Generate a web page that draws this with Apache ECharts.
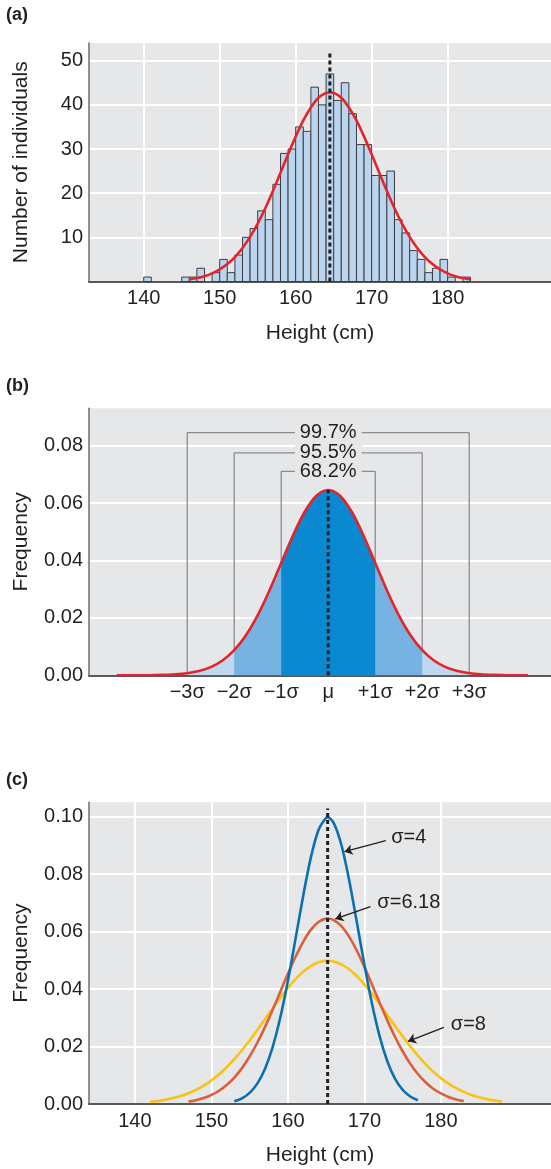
<!DOCTYPE html>
<html><head><meta charset="utf-8">
<script src="https://cdn.jsdelivr.net/npm/echarts@6/dist/echarts.min.js"></script>
<style>html,body{margin:0;padding:0;background:#fff}#c{width:551px;height:1169px}</style>
</head><body><div id="c"></div>
<script>
// ---------- data ----------
const heightTicks = [140, 150, 160, 170, 180];
const countTicks = [0, 10, 20, 30, 40, 50];
const freqTicksB = [0, 0.02, 0.04, 0.06, 0.08];
const freqTicksC = [0, 0.02, 0.04, 0.06, 0.08, 0.10];

// (a) histogram: 1-cm bins, bin start and count
const histBinStart = [140,141,142,143,144,145,146,147,148,149,150,151,152,153,154,155,156,157,158,159,160,161,162,163,164,165,166,167,168,169,170,171,172,173,174,175,176,177,178,179,180,181,182];
const histCounts   = [1,0,0,0,0,1,1,3,0,2,5,2,6,10,12,16,14,22,29,30,35,34,44,40,47,41,45,38,31,31,24,24,25,14,11,7,5,2,3,5,1,0,1];
// (a) fitted curve (counts)
const histFitX = [146,147,148,149,150,151,152,153,154,155,156,157,158,159,160,161,162,163,164,164.5,165,166,167,168,169,170,171,172,173,174,175,176,177,178,179,180,181,182,183];
const histFitY = [0.48,0.78,1.21,1.84,2.73,3.94,5.53,7.58,10.1,13.1,16.6,20.5,24.6,28.8,32.8,36.5,39.4,41.6,42.7,42.8,42.7,41.6,39.4,36.5,32.8,28.8,24.6,20.5,16.6,13.1,10.1,7.58,5.53,3.94,2.73,1.84,1.21,0.78,0.48];
const histMean = 164.5;
const histMeanTop = 52;

// (b) standard normal shape in sigma units
const sigmaPos  = [-4.5,-4.25,-4,-3.75,-3.5,-3.25,-3,-2.75,-2.5,-2.25,-2,-1.75,-1.5,-1.25,-1,-0.75,-0.5,-0.25,0,0.25,0.5,0.75,1,1.25,1.5,1.75,2,2.25,2.5,2.75,3,3.25,3.5,3.75,4,4.25];
const sigmaFreq = [0.0000026,0.0000077,0.0000217,0.000057,0.000141,0.000328,0.000717,0.00147,0.00284,0.00514,0.00874,0.01396,0.02096,0.02955,0.03915,0.04872,0.05697,0.06256,0.06455,0.06256,0.05697,0.04872,0.03915,0.02955,0.02096,0.01396,0.00874,0.00514,0.00284,0.00147,0.000717,0.000328,0.000141,0.000057,0.0000217,0.0000077];
const sigmaTickValues = [-3, -2, -1, 0, 1, 2, 3];
const sigmaTickLabels = ['\u22123\u03c3', '\u22122\u03c3', '\u22121\u03c3', '\u03bc', '+1\u03c3', '+2\u03c3', '+3\u03c3'];
const bracketSigma  = [3, 2, 1];
const bracketTop    = [0.0845, 0.0775, 0.0710];
const bracketLabels = ['99.7%', '95.5%', '68.2%'];

// (c) three curves
const curveMean = 165.2;
const sd4X = [153,154,155,156,157,158,159,160,161,162,163,164,165,165.2,166,167,168,169,170,171,172,173,174,175,176,177];
const sd4Y = [0.00095,0.00198,0.00386,0.00708,0.0122,0.01974,0.03001,0.04285,0.05747,0.07242,0.08574,0.09535,0.09962,0.09974,0.09777,0.09014,0.07807,0.06351,0.04855,0.03486,0.02351,0.0149,0.00887,0.00496,0.00261,0.00129];
const sd618X = [147,148,149,150,151,152,153,154,155,156,157,158,159,160,161,162,163,164,165,165.2,166,167,168,169,170,171,172,173,174,175,176,177,178,179,180,181,182,183];
const sd618Y = [0.00084,0.00134,0.00208,0.00313,0.00461,0.0066,0.00919,0.01249,0.01653,0.02131,0.02677,0.03275,0.03902,0.04531,0.05124,0.05645,0.06059,0.06334,0.06452,0.06455,0.06401,0.06187,0.05825,0.05343,0.04774,0.04155,0.03524,0.02911,0.02342,0.01836,0.01402,0.01043,0.00756,0.00533,0.00367,0.00246,0.0016,0.00102];
const sd8X = [142,143,144,145,146,147,148,149,150,151,152,153,154,155,156,157,158,159,160,161,162,163,164,165,165.2,166,167,168,169,170,171,172,173,174,175,176,177,178,179,180,181,182,183,184,185,186,187,188];
const sd8Y = [0.00074,0.00106,0.00149,0.00206,0.0028,0.00375,0.00494,0.00642,0.0082,0.01032,0.01278,0.01559,0.01872,0.02212,0.02574,0.02949,0.03326,0.03693,0.04037,0.04345,0.04603,0.04802,0.04931,0.04985,0.04987,0.04962,0.04862,0.04691,0.04455,0.04166,0.03834,0.03475,0.031,0.02723,0.02355,0.02005,0.01681,0.01386,0.01127,0.00901,0.00709,0.0055,0.0042,0.00315,0.00233,0.0017,0.00122,0.00086];
const curveMeanTop = 0.1028;
const curveNames = ['\u03c3=4', '\u03c3=6.18', '\u03c3=8'];
const curveLabelAt = [[173.5, 0.0926], [171.7, 0.0701], [181.3, 0.0275]];
const curveArrowFrom = [[172.8, 0.0917], [170.8, 0.0687], [180.4, 0.0267]];
const curveArrowTo   = [[167.4, 0.0878], [166.2, 0.0644], [175.7, 0.0218]];

// ---------- styling ----------
const FONT = "'Liberation Sans', Arial, Helvetica, sans-serif";
const TXT = '#231f20';
const BG = '#e6e7e8';
const zip = (a, b) => a.map((v, i) => [v, b[i]]);

const chart = echarts.init(document.getElementById('c'), null, {renderer: 'canvas'});

const gridBase = {left: 89, right: 0, show: true, backgroundColor: BG, borderWidth: 0, containLabel: false};
const axisLineX = {show: true, onZero: false, lineStyle: {color: '#58585a', width: 2}};
const axisLineY = {show: true, onZero: false, lineStyle: {color: '#6d6e71', width: 1.5}};
const labelBase = {color: TXT, fontSize: 20, fontFamily: FONT};
const splitWhite = {show: true, lineStyle: {color: '#ffffff', width: 2}};
const nameStyle = {color: TXT, fontSize: 21, fontFamily: FONT};

function heightAxis(idx, min, max) {
  return {
    type: 'value', gridIndex: idx, min: min, max: max,
    name: 'Height (cm)', nameLocation: 'middle', nameGap: 41, nameTextStyle: nameStyle,
    axisLine: axisLineX,
    axisTick: {show: false, customValues: heightTicks},
    axisLabel: Object.assign({customValues: heightTicks, margin: 7}, labelBase),
    splitLine: splitWhite
  };
}
function freqAxis(idx, max, ticks, name, gap, fmt) {
  return {
    type: 'value', gridIndex: idx, min: 0, max: max,
    name: name, nameLocation: 'middle', nameGap: gap, nameRotate: 90, nameTextStyle: nameStyle,
    axisLine: axisLineY, axisTick: {show: false, customValues: ticks},
    axisLabel: Object.assign({customValues: ticks, margin: 6, formatter: fmt}, labelBase),
    splitLine: splitWhite
  };
}

const series = [];
// (a) histogram bars
series.push({
  type: 'custom', xAxisIndex: 0, yAxisIndex: 0, z: 2,
  data: zip(histBinStart, histCounts).filter(d => d[1] > 0),
  encode: {x: 0, y: 1},
  renderItem: function (params, api) {
    const x0 = api.value(0), c = api.value(1);
    const p0 = api.coord([x0, 0]);
    const p1 = api.coord([x0 + 1, c]);
    return {type: 'rect', shape: {x: p0[0], y: p1[1], width: p1[0] - p0[0], height: p0[1] - p1[1]},
            style: {fill: '#bbd5ee', stroke: '#3d3d3f', lineWidth: 1}};
  }
});
series.push({type: 'line', xAxisIndex: 0, yAxisIndex: 0, z: 3, data: zip(histFitX, histFitY), smooth: 0.3,
  showSymbol: false, lineStyle: {color: '#e5232a', width: 2.6}});
series.push({type: 'line', xAxisIndex: 0, yAxisIndex: 0, z: 4, data: [[histMean, 0], [histMean, histMeanTop]],
  showSymbol: false, lineStyle: {color: TXT, width: 3, type: [4, 3]}});

// (b)
const freqAt = s => sigmaFreq[sigmaPos.indexOf(s)];
bracketSigma.forEach((k, i) => {
  series.push({type: 'line', xAxisIndex: 1, yAxisIndex: 1, z: 2, showSymbol: false,
    data: [[-k, freqAt(-k)], [-k, bracketTop[i]], [k, bracketTop[i]], [k, freqAt(k)]],
    lineStyle: {color: '#8b8c8e', width: 1.3}});
});
const fills = [[3, '#bed8ef'], [2, '#76b3e3'], [1, '#0a89d0']];
fills.forEach(([k, col]) => {
  const d = zip(sigmaPos, sigmaFreq).filter(p => p[0] >= -k && p[0] <= k);
  series.push({type: 'line', xAxisIndex: 1, yAxisIndex: 1, z: 3, data: d, smooth: 0.3, showSymbol: false,
    lineStyle: {width: 0}, areaStyle: {color: col, opacity: 1}});
});
series.push({type: 'line', xAxisIndex: 1, yAxisIndex: 1, z: 4, data: zip(sigmaPos, sigmaFreq), smooth: 0.3,
  showSymbol: false, lineStyle: {color: '#e5232a', width: 2.6}});
series.push({type: 'line', xAxisIndex: 1, yAxisIndex: 1, z: 5, data: [[0, 0], [0, freqAt(0)]],
  showSymbol: false, lineStyle: {color: TXT, width: 3, type: [4, 3]}});
series.push({type: 'scatter', xAxisIndex: 1, yAxisIndex: 1, z: 6, symbolSize: 0, itemStyle: {color: TXT, opacity: 1},
  data: bracketLabels.map((t, i) => ({value: [0, bracketTop[i]], name: t})),
  label: Object.assign({show: true, position: 'inside', formatter: p => p.name, opacity: 1,
    textBorderWidth: 0, backgroundColor: BG, padding: [1, 5]}, labelBase)});

// (c)
[[sd8X, sd8Y, '#fcc212'], [sd618X, sd618Y, '#d9603b'], [sd4X, sd4Y, '#0e6fb0']].forEach(([xs, ys, col]) => {
  series.push({type: 'line', xAxisIndex: 2, yAxisIndex: 2, z: 3, data: zip(xs, ys), smooth: 0.3,
    showSymbol: false, lineStyle: {color: col, width: 2.6}});
});
series.push({type: 'line', xAxisIndex: 2, yAxisIndex: 2, z: 4, data: [[curveMean, 0], [curveMean, curveMeanTop]],
  showSymbol: false, lineStyle: {color: TXT, width: 3, type: [4, 3]}});
series.push({type: 'lines', coordinateSystem: 'cartesian2d', xAxisIndex: 2, yAxisIndex: 2, z: 5,
  symbol: ['none', 'arrow'], symbolSize: 8,
  lineStyle: {color: TXT, width: 1.3, opacity: 1},
  data: curveArrowFrom.map((f, i) => ({coords: [f, curveArrowTo[i]]}))});
series.push({type: 'scatter', xAxisIndex: 2, yAxisIndex: 2, z: 5, symbolSize: 0, itemStyle: {color: TXT, opacity: 1},
  data: curveNames.map((t, i) => ({value: curveLabelAt[i], name: t})),
  label: Object.assign({show: true, position: 'right', distance: 0, opacity: 1, formatter: p => p.name}, labelBase)});

series.forEach(s => { s.silent = true; s.animation = false; });

const titleStyle = {fontSize: 18, fontWeight: 'bold', color: TXT, fontFamily: FONT};
const option = {
  animation: false,
  textStyle: {fontFamily: FONT},
  title: [
    {text: '(a)', left: 6, top: 6, padding: 0, textStyle: titleStyle},
    {text: '(b)', left: 6, top: 377, padding: 0, textStyle: titleStyle},
    {text: '(c)', left: 6, top: 771, padding: 0, textStyle: titleStyle}
  ],
  grid: [
    Object.assign({top: 43, height: 238.5}, gridBase),
    Object.assign({top: 408.3, height: 267}, gridBase),
    Object.assign({top: 802.3, height: 301.7}, gridBase)
  ],
  xAxis: [
    heightAxis(0, 132.8, 193.6),
    {type: 'value', gridIndex: 1, min: -5.09, max: 4.74,
     axisLine: axisLineX, axisTick: {show: false, customValues: sigmaTickValues},
     axisLabel: Object.assign({customValues: sigmaTickValues, margin: 7,
       formatter: v => sigmaTickLabels[sigmaTickValues.indexOf(Math.round(v))]}, labelBase),
     splitLine: {show: false}},
    heightAxis(2, 134.0, 194.4)
  ],
  yAxis: [
    freqAxis(0, 54, countTicks, 'Number of individuals', 57, v => (v === 0 ? '' : String(v))),
    freqAxis(1, 0.093, freqTicksB, 'Frequency', 57, v => v.toFixed(2)),
    freqAxis(2, 0.105, freqTicksC, 'Frequency', 57, v => v.toFixed(2))
  ],
  series: series
};
chart.setOption(option);
</script></body></html>
